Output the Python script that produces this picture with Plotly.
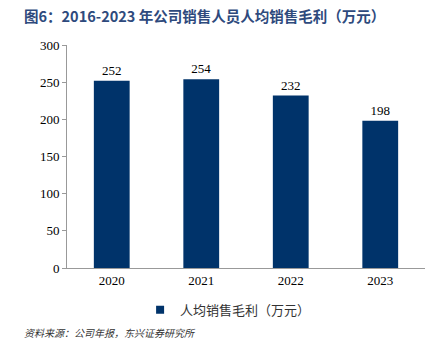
import plotly.graph_objects as go

years = ["2020", "2021", "2022", "2023"]
values = [252, 254, 232, 198]
series_name = "人均销售毛利（万元）"
y_ticks = [0, 50, 100, 150, 200, 250, 300]

bar_color = "#00336A"

fig = go.Figure()
fig.add_trace(go.Bar(
    x=years, y=values, name=series_name,
    marker=dict(color=bar_color, line=dict(width=0)),
    width=0.4,
    text=[str(v) for v in values], textposition="outside",
    textfont=dict(family="Liberation Serif", size=13, color="#000000"),
    cliponaxis=False,
    showlegend=False,
))
# legend-only entry with a small square marker
fig.add_trace(go.Scatter(
    x=[None], y=[None], mode="markers", name=series_name,
    marker=dict(symbol="square", size=8, color=bar_color),
    showlegend=True,
))

fig.update_layout(
    width=435, height=354,
    margin=dict(l=67, r=10, t=45, b=86),
    paper_bgcolor="white", plot_bgcolor="white",
    font=dict(family="Liberation Serif", size=13, color="#000000"),
    showlegend=True,
    legend=dict(orientation="h", x=0.45, xanchor="center", y=-0.12, yanchor="top",
                font=dict(family="Noto Sans CJK SC", size=13, color="#333333"),
                itemwidth=30),
    xaxis=dict(showline=True, linecolor="#999999", linewidth=1, ticks="",
               tickfont=dict(family="Liberation Serif", size=13)),
    yaxis=dict(range=[0, 300], tickvals=y_ticks, showgrid=False, zeroline=False,
               showline=True, linecolor="#999999", linewidth=1,
               ticks="outside", ticklen=4, tickcolor="#999999",
               tickfont=dict(family="Liberation Serif", size=13)),
    annotations=[
        dict(text="<b>图6：2016-2023 年公司销售人员人均销售毛利（万元）</b>",
             xref="paper", yref="paper", x=0, y=1, xanchor="left", yanchor="top",
             xshift=-45, yshift=42, showarrow=False,
             font=dict(family="Noto Sans CJK SC", size=14.5, color="#2E4A7D")),
        dict(text="<i>资料来源：公司年报，东兴证券研究所</i>",
             xref="paper", yref="paper", x=0, y=0, xanchor="left", yanchor="middle",
             xshift=-45, yshift=-64, showarrow=False,
             font=dict(family="Noto Sans CJK SC", size=10, color="#333333")),
    ],
)

fig.write_html("out.html")
